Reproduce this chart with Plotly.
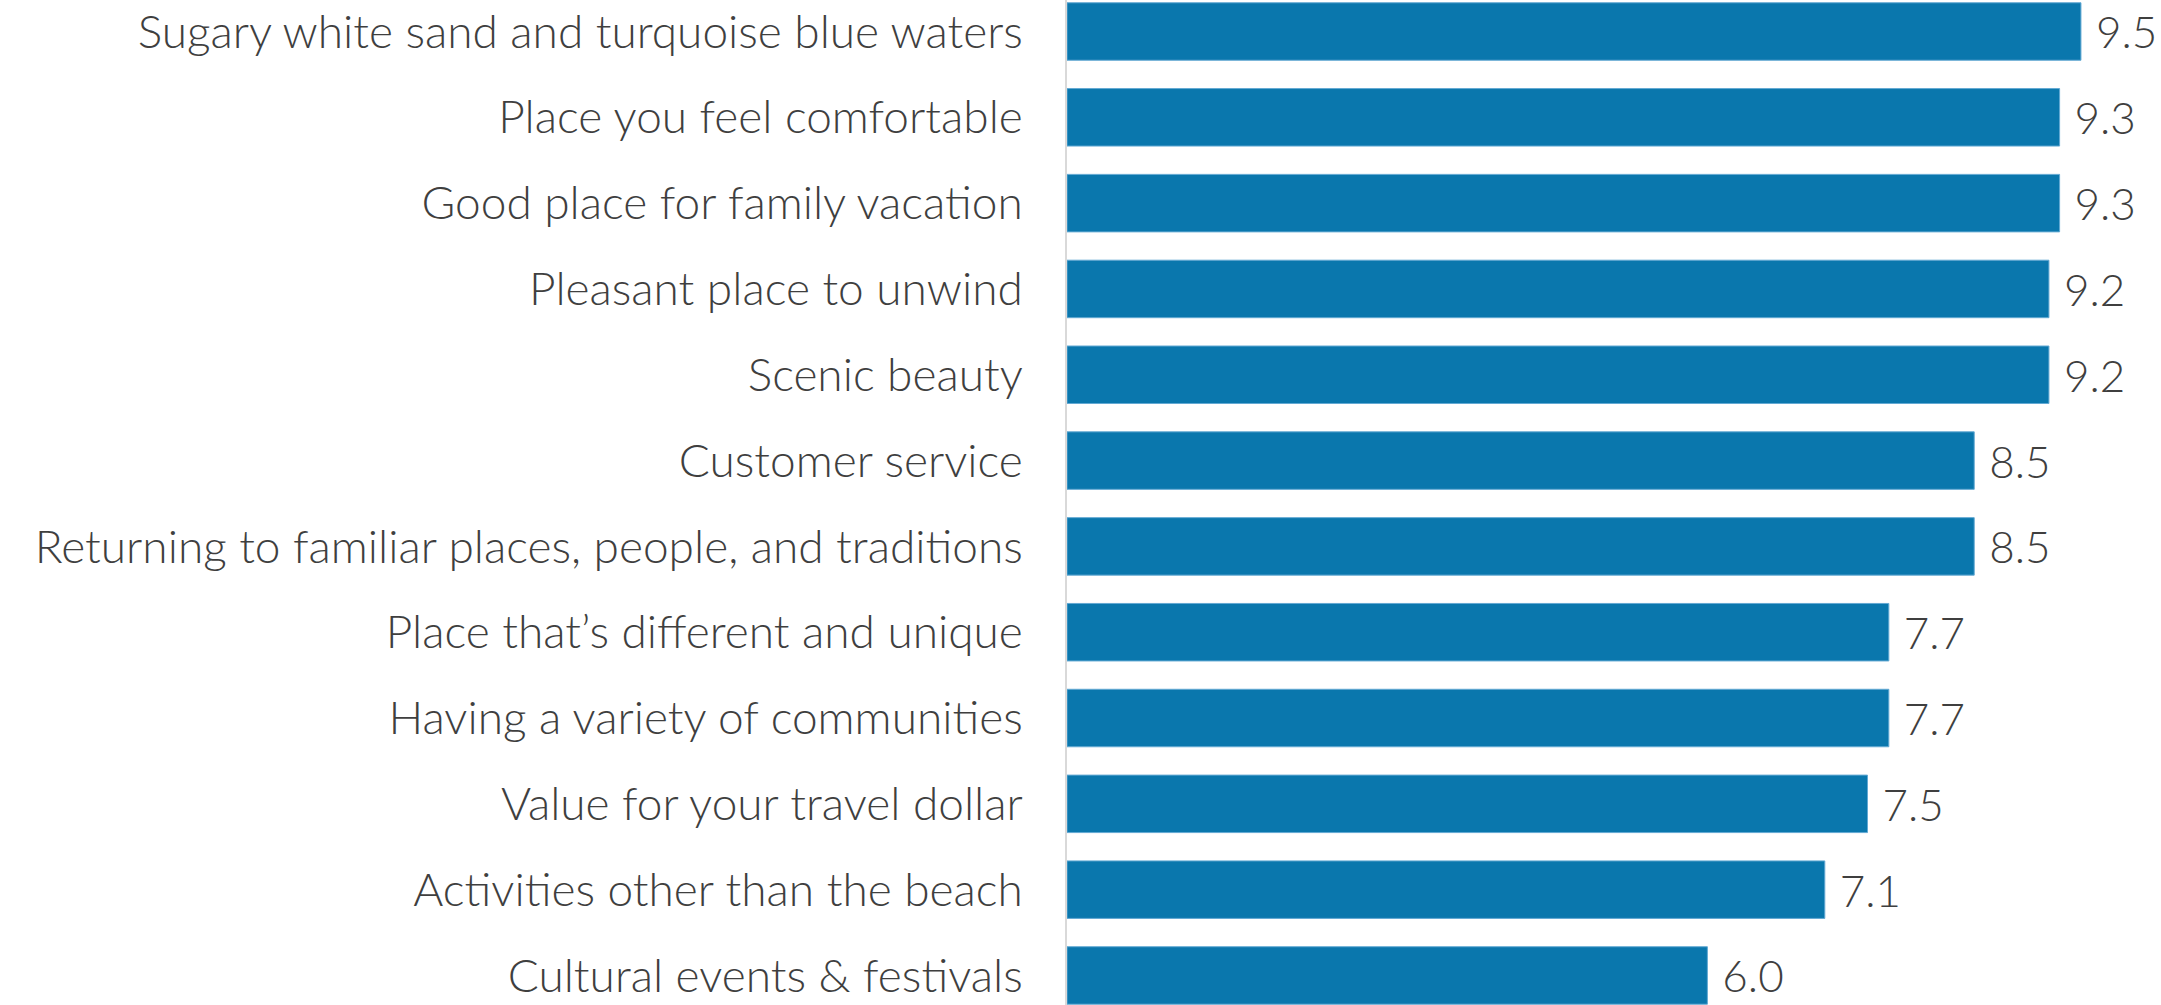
import plotly.graph_objects as go

categories = [
    "Sugary white sand and turquoise blue waters",
    "Place you feel comfortable",
    "Good place for family vacation",
    "Pleasant place to unwind",
    "Scenic beauty",
    "Customer service",
    "Returning to familiar places, people, and traditions",
    "Place that\u2019s different and unique",
    "Having a variety of communities",
    "Value for your travel dollar",
    "Activities other than the beach",
    "Cultural events & festivals",
]
values = [9.5, 9.3, 9.3, 9.2, 9.2, 8.5, 8.5, 7.7, 7.7, 7.5, 7.1, 6.0]
value_labels = ["9.5", "9.3", "9.3", "9.2", "9.2", "8.5", "8.5", "7.7", "7.7", "7.5", "7.1", "6.0"]

FONT = "Lato"
TXT = "#3f3f3f"

fig = go.Figure(go.Bar(
    x=values,
    y=categories,
    orientation="h",
    marker=dict(color="#0a77ad", line=dict(color="#63a9d3", width=1)),
    text=[" " + t for t in value_labels],
    textposition="outside",
    textfont=dict(family=FONT, size=44, color=TXT, weight=300),
    cliponaxis=False,
    hoverinfo="skip",
))

fig.update_layout(
    template="none",
    width=2161, height=1005,
    margin=dict(l=1067, r=0, t=0, b=0, autoexpand=False),
    paper_bgcolor="white", plot_bgcolor="white",
    bargap=0.33,
    showlegend=False,
    font=dict(family=FONT, color=TXT),
)
fig.update_xaxes(range=[0, 10.25], visible=False, showgrid=False, zeroline=False,
                 automargin=False)
fig.update_yaxes(
    type="category",
    range=[11.344, -0.367],
    automargin=False,
    showgrid=False, zeroline=False,
    showline=True, linecolor="#d9d9d9", linewidth=2,
    ticks="", ticklabelstandoff=33,
    tickfont=dict(family=FONT, size=46, color=TXT, weight=300),
)

fig.write_html(
    "out.html",
    config={"displayModeBar": False},
    post_script="document.body.style.margin='0';document.body.style.overflow='hidden';",
)
